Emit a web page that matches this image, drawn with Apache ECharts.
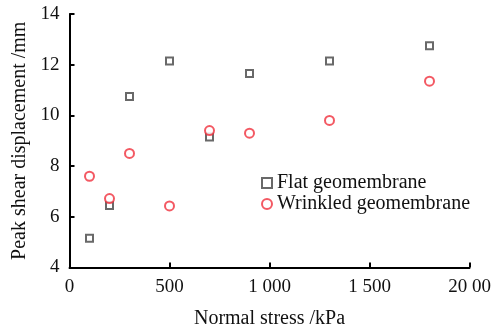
<!DOCTYPE html>
<html><head><meta charset="utf-8">
<script src="https://cdn.jsdelivr.net/npm/echarts@6/dist/echarts.min.js"></script>
<style>html,body{margin:0;padding:0;background:#fff}#c{width:493px;height:329px}</style>
</head><body><div id="c"></div>
<script>
const stress = [100, 200, 300, 500, 700, 900, 1300, 1800];
const flat = [5.15, 6.45, 10.75, 12.15, 9.15, 11.65, 12.15, 12.75];
const wrinkled = [7.6, 6.72, 8.5, 6.43, 9.4, 9.3, 9.8, 11.35];
const xTickLabels = {0: '0', 500: '500', 1000: '1 000', 1500: '1 500', 2000: '20 00'};
const yTicks = [4, 6, 8, 10, 12, 14];

const font = 'Liberation Serif, Times New Roman, serif';
const chart = echarts.init(document.getElementById('c'));
chart.setOption({
  animation: false,
  grid: {left: 69.5, right: 23.5, top: 14, bottom: 61.5, containLabel: false, outerBoundsMode: 'none'},
  legend: {
    left: 256, top: 168, orient: 'vertical', itemGap: 1, itemWidth: 10, itemHeight: 10,
    textStyle: {fontFamily: font, fontSize: 20, color: '#111'},
    data: ['Flat geomembrane', 'Wrinkled geomembrane']
  },
  xAxis: {
    type: 'value', min: 0, max: 2000, interval: 500,
    name: 'Normal stress /kPa', nameLocation: 'middle', nameGap: 41,
    nameTextStyle: {fontFamily: font, fontSize: 20, color: '#111'},
    axisLine: {lineStyle: {color: '#000', width: 2}},
    axisTick: {inside: true, length: 5, lineStyle: {color: '#000', width: 2}},
    axisLabel: {fontFamily: font, fontSize: 19, color: '#111', margin: 10, formatter: v => xTickLabels[v]},
    splitLine: {show: false}
  },
  yAxis: {
    type: 'value', min: yTicks[0], max: yTicks[yTicks.length-1], interval: 2,
    name: 'Peak shear displacement /mm', nameLocation: 'middle', nameGap: 38,
    nameTextStyle: {fontFamily: font, fontSize: 20, color: '#111'},
    axisLine: {lineStyle: {color: '#000', width: 2}},
    axisTick: {inside: true, length: 5, lineStyle: {color: '#000', width: 2}},
    axisLabel: {fontFamily: font, fontSize: 19, color: '#111', margin: 10},
    splitLine: {show: false}
  },
  series: [
    {name: 'Flat geomembrane', type: 'scatter', symbol: 'rect', symbolSize: 7,
     itemStyle: {color: '#fff', borderColor: '#444', borderWidth: 2},
     data: stress.map((s, i) => [s, flat[i]])},
    {name: 'Wrinkled geomembrane', type: 'scatter', symbol: 'circle', symbolSize: 9,
     itemStyle: {color: '#fff', borderColor: '#f0303c', borderWidth: 2},
     data: stress.map((s, i) => [s, wrinkled[i]])}
  ]
});
</script></body></html>
